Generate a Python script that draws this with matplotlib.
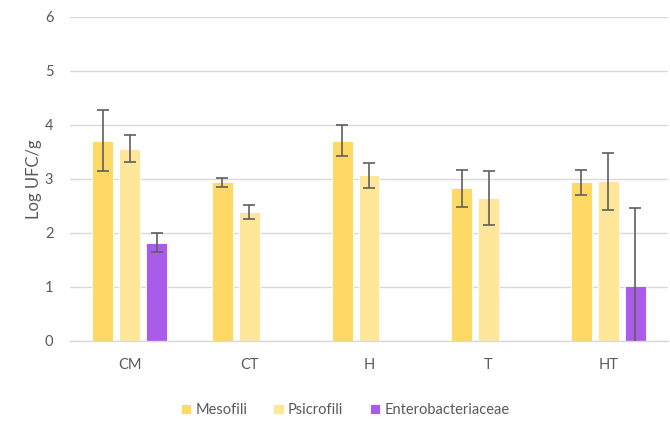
import numpy as np
import matplotlib
matplotlib.use("Agg")
import matplotlib.pyplot as plt

plt.rcParams['font.family'] = ['Lato', 'DejaVu Sans']

categories = ["CM", "CT", "H", "T", "HT"]
series_names = ["Mesofili", "Psicrofili", "Enterobacteriaceae"]
mesofili = [3.71, 2.94, 3.71, 2.83, 2.94]
mesofili_err = [0.56, 0.08, 0.29, 0.34, 0.23]
psicrofili = [3.56, 2.39, 3.07, 2.65, 2.96]
psicrofili_err = [0.25, 0.13, 0.23, 0.50, 0.53]
entero = [1.82, np.nan, np.nan, np.nan, 1.02]
entero_err = [0.18, np.nan, np.nan, np.nan, 1.44]
colors = ["#FFD966", "#FFE699", "#A95BEB"]

fig = plt.figure(figsize=(6.70, 4.25), dpi=100)
ax = fig.add_axes([70/670, 1 - 341/425, 598/670, 324/425])

x = np.arange(len(categories))
width = 0.175
offsets = [-0.225, 0.0, 0.225]
txt = "#595959"

for vals, errs, col, off, name in zip([mesofili, psicrofili, entero],
                                      [mesofili_err, psicrofili_err, entero_err],
                                      colors, offsets, series_names):
    ax.bar(x + off, vals, width, color=col, label=name, zorder=2,
           edgecolor="white", linewidth=0.6)
    ax.errorbar(x + off, vals, yerr=errs, fmt="none", ecolor="#5f5f5f",
                elinewidth=1.2, capsize=4.5, capthick=1.2, zorder=3)

ax.set_ylim(0, 6)
ax.set_xlim(-0.5, len(categories) - 0.5)
ax.set_yticks(range(0, 7))
ax.set_xticks(x)
ax.set_xticklabels(categories)
ax.yaxis.grid(True, color="#D9D9D9", linewidth=1.0, zorder=0)
ax.set_axisbelow(True)
for s in ["top", "right", "left"]:
    ax.spines[s].set_visible(False)
ax.spines["bottom"].set_color("#D9D9D9")
ax.spines["bottom"].set_linewidth(1.0)
ax.tick_params(axis="both", length=0, colors=txt, labelsize=10.5)
ax.tick_params(axis="y", pad=12)
ax.tick_params(axis="x", pad=12)
ax.set_ylabel("Log UFC/g", color=txt, fontsize=12, labelpad=2)

leg = fig.legend(loc="center", bbox_to_anchor=(345/670, 1 - 410/425), ncol=3,
                 frameon=False, fontsize=10.5, handlelength=0.7, handleheight=0.7,
                 handletextpad=0.3, columnspacing=1.8)
for t in leg.get_texts():
    t.set_color(txt)

fig.savefig("out.png", dpi=100)
